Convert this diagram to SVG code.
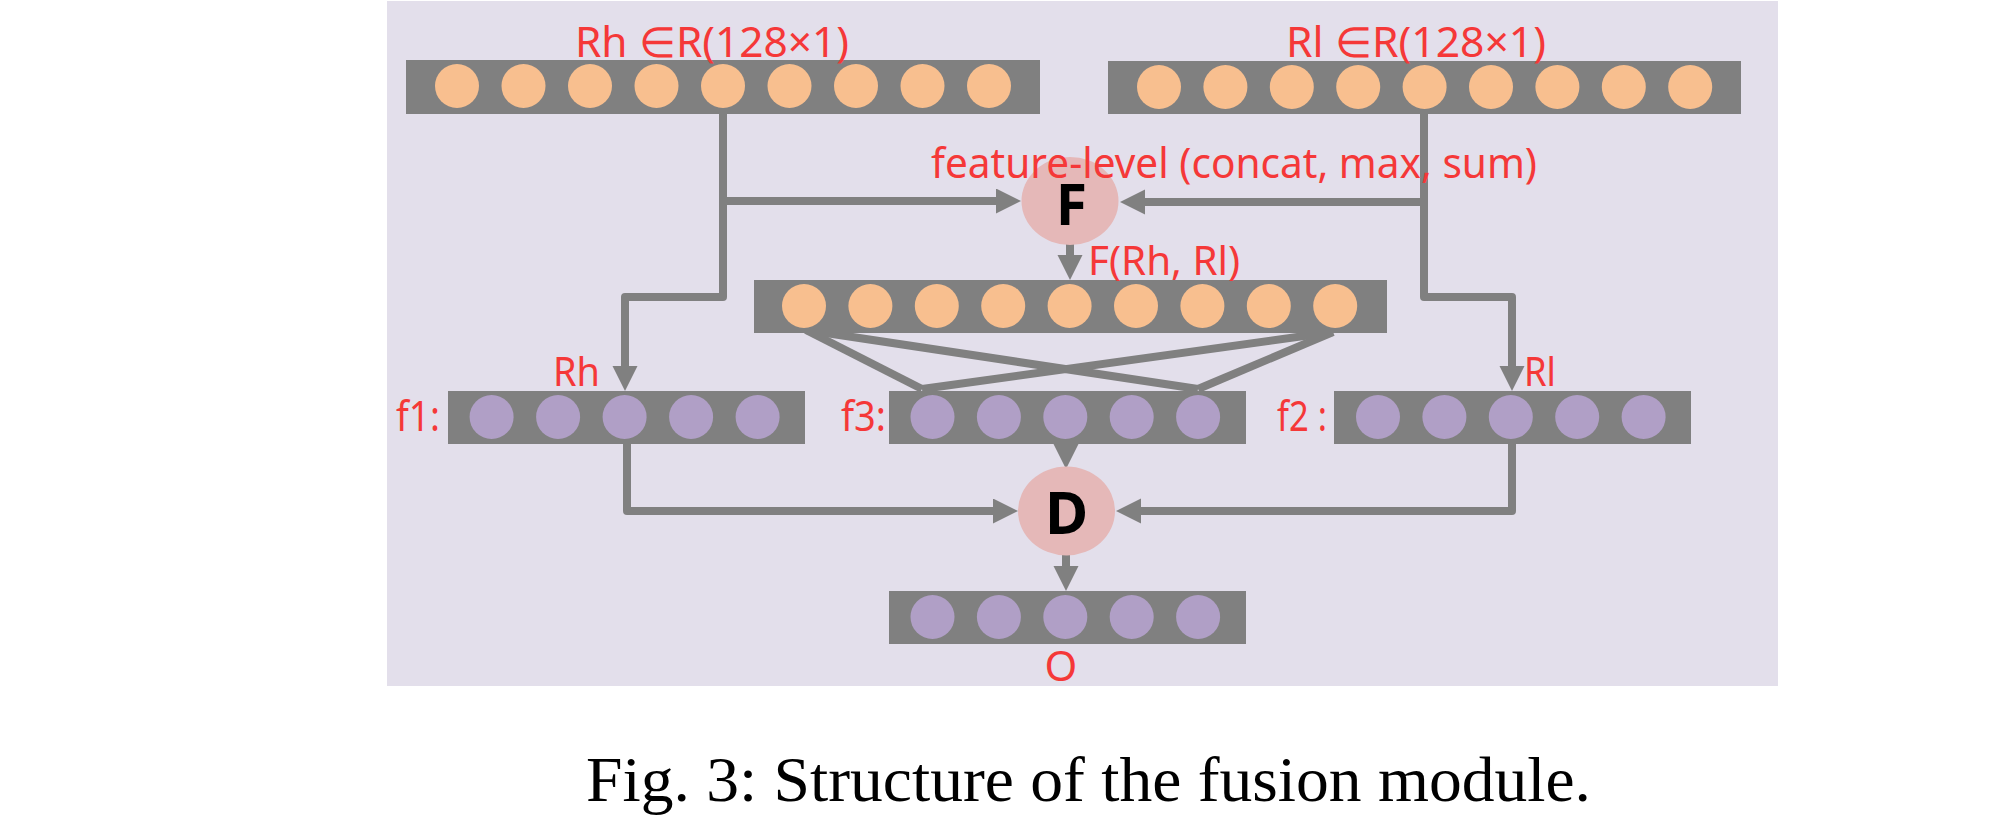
<svg xmlns="http://www.w3.org/2000/svg" width="1999" height="816" viewBox="0 0 1999 816">
<style>
.bar{fill:#808080}
.o{fill:#F8BF8F}
.p{fill:#B09FC6}
.op{fill:#E5B8B8}
.lbl{font-family:"Noto Sans","Liberation Sans",sans-serif;fill:#F53838}
.big{font-family:"Noto Sans","Liberation Sans",sans-serif;font-weight:bold;fill:#000;text-anchor:middle}
.ln{fill:none;stroke:#808080;stroke-width:8;stroke-linejoin:round}
.cap{font-family:"Liberation Serif","Times New Roman",serif;fill:#000}
</style>
<defs>
<marker id="ah" markerUnits="userSpaceOnUse" markerWidth="26" markerHeight="26" refX="0" refY="12.5" orient="auto">
<path d="M0,0 L25,12.5 L0,25 z" fill="#808080"/>
</marker>
</defs>
<rect x="387" y="1" width="1391" height="685" fill="#E3DFEB"/>

<g id="connectors">
<path class="ln" d="M723,114 V297 H625 V366" marker-end="url(#ah)"/>
<path class="ln" d="M723,201 H996" marker-end="url(#ah)"/>
<path class="ln" d="M1424,114 V297 H1512 V366" marker-end="url(#ah)"/>
<path class="ln" d="M1424,202 H1145" marker-end="url(#ah)"/>
<path class="ln" d="M1070,244 V255" marker-end="url(#ah)"/>
<path class="ln" d="M806,330 L922,389"/>
<path class="ln" d="M806,330 L1198,389"/>
<path class="ln" d="M1333,332 L922,389"/>
<path class="ln" d="M1333,332 L1198,389"/>
<path class="ln" d="M1066,440 V444" marker-end="url(#ah)"/>
<path class="ln" d="M627,444 V511 H993" marker-end="url(#ah)"/>
<path class="ln" d="M1512,444 V511 H1141" marker-end="url(#ah)"/>
<path class="ln" d="M1066,555 V566" marker-end="url(#ah)"/>
</g>

<g id="Rh">
<rect class="bar" x="406" y="60" width="634" height="54"/>
<circle class="o" cx="457" cy="86" r="22"/>
<circle class="o" cx="523.5" cy="86" r="22"/>
<circle class="o" cx="590" cy="86" r="22"/>
<circle class="o" cx="656.5" cy="86" r="22"/>
<circle class="o" cx="723" cy="86" r="22"/>
<circle class="o" cx="789.5" cy="86" r="22"/>
<circle class="o" cx="856" cy="86" r="22"/>
<circle class="o" cx="922.5" cy="86" r="22"/>
<circle class="o" cx="989" cy="86" r="22"/>
<text class="lbl" x="575" y="57" font-size="42" textLength="274" lengthAdjust="spacingAndGlyphs">Rh ∈R(128×1)</text>
</g>

<g id="Rl">
<rect class="bar" x="1108" y="61" width="633" height="53"/>
<circle class="o" cx="1159" cy="87" r="22"/>
<circle class="o" cx="1225.4" cy="87" r="22"/>
<circle class="o" cx="1291.8" cy="87" r="22"/>
<circle class="o" cx="1358.2" cy="87" r="22"/>
<circle class="o" cx="1424.6" cy="87" r="22"/>
<circle class="o" cx="1491" cy="87" r="22"/>
<circle class="o" cx="1557.4" cy="87" r="22"/>
<circle class="o" cx="1623.8" cy="87" r="22"/>
<circle class="o" cx="1690.2" cy="87" r="22"/>
<text class="lbl" x="1286" y="57" font-size="42" textLength="260" lengthAdjust="spacingAndGlyphs">Rl ∈R(128×1)</text>
</g>

<g id="F">
<ellipse class="op" cx="1070" cy="201" rx="48.5" ry="44"/>
<text class="big" x="1071.5" y="225" font-size="57">F</text>
<text class="lbl" x="931" y="178" font-size="41" textLength="606" lengthAdjust="spacingAndGlyphs">feature-level (concat, max, sum)</text>
</g>

<g id="FRhRl">
<rect class="bar" x="754" y="280" width="633" height="53"/>
<circle class="o" cx="804" cy="306" r="22"/>
<circle class="o" cx="870.4" cy="306" r="22"/>
<circle class="o" cx="936.8" cy="306" r="22"/>
<circle class="o" cx="1003.2" cy="306" r="22"/>
<circle class="o" cx="1069.6" cy="306" r="22"/>
<circle class="o" cx="1136" cy="306" r="22"/>
<circle class="o" cx="1202.4" cy="306" r="22"/>
<circle class="o" cx="1268.8" cy="306" r="22"/>
<circle class="o" cx="1335.2" cy="306" r="22"/>
<text class="lbl" x="1088" y="275" font-size="40" textLength="152" lengthAdjust="spacingAndGlyphs">F(Rh, Rl)</text>
</g>

<g id="f1">
<rect class="bar" x="448" y="391" width="357" height="53"/>
<circle class="p" cx="491.6" cy="417" r="22"/>
<circle class="p" cx="558.1" cy="417" r="22"/>
<circle class="p" cx="624.6" cy="417" r="22"/>
<circle class="p" cx="691.1" cy="417" r="22"/>
<circle class="p" cx="757.6" cy="417" r="22"/>
<text class="lbl" x="396" y="431" font-size="41" textLength="44" lengthAdjust="spacingAndGlyphs">f1:</text>
<text class="lbl" x="553" y="386" font-size="40" textLength="47" lengthAdjust="spacingAndGlyphs">Rh</text>
</g>

<g id="f3">
<rect class="bar" x="889" y="391" width="357" height="53"/>
<circle class="p" cx="932.5" cy="417" r="22"/>
<circle class="p" cx="998.9" cy="417" r="22"/>
<circle class="p" cx="1065.3" cy="417" r="22"/>
<circle class="p" cx="1131.7" cy="417" r="22"/>
<circle class="p" cx="1198.1" cy="417" r="22"/>
<text class="lbl" x="841" y="431" font-size="41" textLength="45" lengthAdjust="spacingAndGlyphs">f3:</text>
</g>

<g id="f2">
<rect class="bar" x="1334" y="391" width="357" height="53"/>
<circle class="p" cx="1378" cy="417" r="22"/>
<circle class="p" cx="1444.4" cy="417" r="22"/>
<circle class="p" cx="1510.8" cy="417" r="22"/>
<circle class="p" cx="1577.2" cy="417" r="22"/>
<circle class="p" cx="1643.6" cy="417" r="22"/>
<text class="lbl" x="1277" y="431" font-size="41" textLength="50" lengthAdjust="spacingAndGlyphs">f2 :</text>
<text class="lbl" x="1524" y="386" font-size="40" textLength="32" lengthAdjust="spacingAndGlyphs">Rl</text>
</g>

<g id="D">
<ellipse class="op" cx="1066.5" cy="511" rx="48.5" ry="44.5"/>
<text class="big" x="1066.5" y="534" font-size="59">D</text>
</g>

<g id="O">
<rect class="bar" x="889" y="591" width="357" height="53"/>
<circle class="p" cx="932.5" cy="617" r="22"/>
<circle class="p" cx="998.9" cy="617" r="22"/>
<circle class="p" cx="1065.3" cy="617" r="22"/>
<circle class="p" cx="1131.7" cy="617" r="22"/>
<circle class="p" cx="1198.1" cy="617" r="22"/>
<text class="lbl" x="1061" y="681" font-size="42" text-anchor="middle">O</text>
</g>

<text class="cap" x="586" y="801" font-size="64" textLength="1005" lengthAdjust="spacingAndGlyphs">Fig. 3: Structure of the fusion module.</text>
</svg>
